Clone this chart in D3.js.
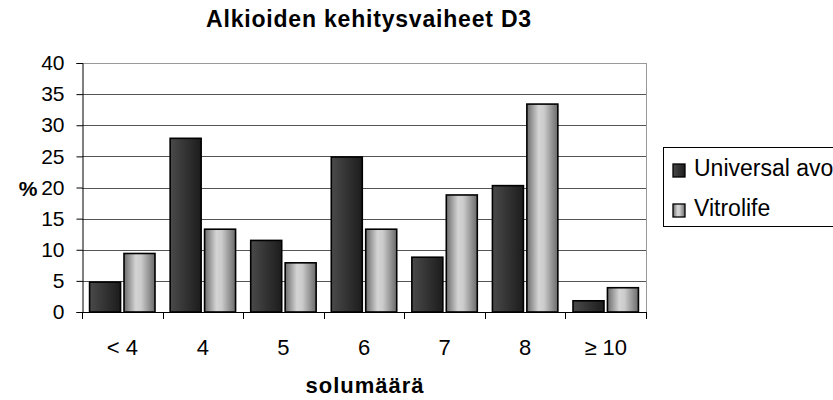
<!DOCTYPE html>
<html lang="fi">
<head>
<meta charset="UTF-8">
<title>Alkioiden kehitysvaiheet D3</title>
<style>
  body { margin: 0; background: #fff; }
  text { font-family: Arial, "Liberation Sans", sans-serif; fill: #000; }
</style>
</head>
<body>
<script src="https://cdn.jsdelivr.net/npm/d3@7/dist/d3.min.js"></script>
<script>
  const categories = ['< 4', '4', '5', '6', '7', '8', '\u2265 10'];
  const seriesNames = ['Universal avo', 'Vitrolife'];
  const universal = [4.8, 27.9, 11.5, 24.9, 8.8, 20.3, 1.8];
  const vitrolife = [9.4, 13.3, 7.9, 13.3, 18.8, 33.4, 3.9];
  const yTicks = [0, 5, 10, 15, 20, 25, 30, 35, 40];

  const w = 833;
  const h = 400;
  const plotLeft = 82, plotRight = 646, plotTop = 63, plotBottom = 312;

  const rows = categories.map((c, i) => ({ cat: c, values: [universal[i], vitrolife[i]] }));

  const svg = d3.select('body')
    .append('svg')
    .attr('width', w)
    .attr('height', h);

  // bar fills, shaded left to right like the original
  const defs = svg.append('defs');
  const gradDark = defs.append('linearGradient').attr('id', 'g0');
  [[0, '#4a4a4a'], [0.3, '#3c3c3c'], [1, '#1c1c1c']].forEach(s =>
    gradDark.append('stop').attr('offset', s[0]).attr('stop-color', s[1]));
  const gradLight = defs.append('linearGradient').attr('id', 'g1');
  [[0, '#6c6c6c'], [0.38, '#d4d4d4'], [0.55, '#cccccc'], [1, '#6a6a6a']].forEach(s =>
    gradLight.append('stop').attr('offset', s[0]).attr('stop-color', s[1]));

  const x = d3.scaleBand()
    .domain(categories)
    .range([plotLeft, plotRight]);

  const xInner = d3.scaleBand()
    .domain([0, 1])
    .range([0, x.bandwidth()])
    .paddingInner(0.1)
    .paddingOuter(0.22);

  const y = d3.scaleLinear()
    .domain([0, 40])
    .range([plotBottom, plotTop]);

  // gridlines
  svg.append('g')
    .selectAll('line')
    .data(yTicks.filter(t => t > 0))
    .enter()
    .append('line')
    .attr('x1', plotLeft)
    .attr('x2', plotRight)
    .attr('y1', d => Math.round(y(d)) + 0.5)
    .attr('y2', d => Math.round(y(d)) + 0.5)
    .attr('stroke', d => d === 40 ? '#999' : '#555')
    .attr('stroke-width', 1);

  svg.append('line')
    .attr('x1', plotRight + 0.5).attr('x2', plotRight + 0.5)
    .attr('y1', plotTop).attr('y2', plotBottom)
    .attr('stroke', '#999');

  // bars
  svg.append('g')
    .selectAll('g')
    .data(rows)
    .enter()
    .append('g')
    .attr('transform', d => `translate(${x(d.cat)},0)`)
    .selectAll('rect')
    .data(d => d.values.map((v, i) => ({ i: i, v: v })))
    .enter()
    .append('rect')
    .attr('x', d => xInner(d.i))
    .attr('width', xInner.bandwidth())
    .attr('y', d => y(d.v))
    .attr('height', d => y(0) - y(d.v))
    .attr('fill', d => `url(#g${d.i})`)
    .attr('stroke', '#000')
    .attr('stroke-width', 1.6);

  // y axis
  const yAxis = svg.append('g')
    .attr('transform', `translate(${plotLeft + 0.5},0)`)
    .call(d3.axisLeft(y).tickValues(yTicks).tickSize(6).tickPadding(12));
  yAxis.select('.domain').attr('stroke', '#000');
  yAxis.selectAll('.tick line').attr('stroke', '#000');
  yAxis.selectAll('text').style('font-size', '21px').attr('fill', '#000');

  // x axis: ticks sit between categories
  svg.append('line')
    .attr('x1', plotLeft).attr('x2', plotRight + 1)
    .attr('y1', plotBottom + 0.5).attr('y2', plotBottom + 0.5)
    .attr('stroke', '#000');
  const bounds = categories.map(c => x(c)).concat([plotRight]);
  svg.append('g')
    .selectAll('line')
    .data(bounds)
    .enter()
    .append('line')
    .attr('x1', d => Math.round(d) + 0.5)
    .attr('x2', d => Math.round(d) + 0.5)
    .attr('y1', plotBottom)
    .attr('y2', plotBottom + 7)
    .attr('stroke', '#000');
  svg.append('g')
    .selectAll('text')
    .data(categories)
    .enter()
    .append('text')
    .attr('x', d => x(d) + x.bandwidth() / 2)
    .attr('y', 355)
    .attr('text-anchor', 'middle')
    .style('font-size', '22px')
    .text(d => d);

  // titles
  svg.append('text')
    .attr('x', 369)
    .attr('y', 27)
    .attr('text-anchor', 'middle')
    .style('font-size', '23px')
    .style('font-weight', 'bold')
    .style('letter-spacing', '0.8px')
    .text('Alkioiden kehitysvaiheet D3');

  svg.append('text')
    .attr('x', 365)
    .attr('y', 393)
    .attr('text-anchor', 'middle')
    .style('font-size', '22px')
    .style('font-weight', 'bold')
    .style('letter-spacing', '1px')
    .text('solumäärä');

  svg.append('text')
    .attr('x', 28)
    .attr('y', 196)
    .attr('text-anchor', 'middle')
    .style('font-size', '21px')
    .style('font-weight', 'bold')
    .text('%');

  // legend (runs off the right edge as in the original)
  const legend = svg.append('g');
  legend.append('rect')
    .attr('x', 663.5).attr('y', 147.5)
    .attr('width', 200).attr('height', 79)
    .attr('fill', '#fff')
    .attr('stroke', '#000');
  const items = legend.selectAll('g.item')
    .data(seriesNames)
    .enter()
    .append('g')
    .attr('class', 'item')
    .attr('transform', (d, i) => `translate(673,${164 + i * 40})`);
  items.append('rect')
    .attr('width', 12).attr('height', 13)
    .attr('fill', (d, i) => `url(#g${i})`)
    .attr('stroke', '#000')
    .attr('stroke-width', 1.3);
  items.append('text')
    .attr('x', 21)
    .attr('y', 12)
    .style('font-size', '23px')
    .text(d => d);
</script>
</body>
</html>
